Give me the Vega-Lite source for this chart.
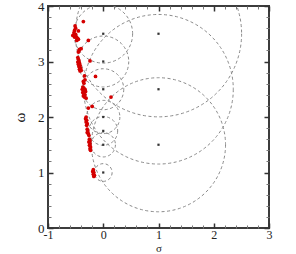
{
  "$schema": "https://vega.github.io/schema/vega-lite/v6.json",
  "width": 221,
  "height": 222,
  "autosize": {"type": "none"},
  "padding": {"left": 48, "top": 6, "right": 27, "bottom": 26},
  "background": "white",
  "config": {
    "view": {"stroke": "#3c3c3c", "strokeWidth": 2},
    "axis": {
      "grid": false,
      "domain": false,
      "labelFont": "Liberation Serif",
      "titleFont": "Liberation Serif",
      "labelFontSize": 13,
      "titleFontSize": 15,
      "titleFontWeight": "normal",
      "labelColor": "#222",
      "titleColor": "#222",
      "tickColor": "#333",
      "labelFlush": false,
      "labelOverlap": false
    }
  },
  "datasets": {
    "circles": [
      {"cx": 1, "cy": 3.5, "r": 1.5},
      {"cx": 1, "cy": 2.5, "r": 1.35},
      {"cx": 1, "cy": 1.5, "r": 1.21},
      {"cx": 0, "cy": 3.5, "r": 0.53},
      {"cx": 0, "cy": 3.0, "r": 0.46},
      {"cx": 0, "cy": 2.5, "r": 0.37},
      {"cx": 0, "cy": 2.0, "r": 0.3},
      {"cx": 0, "cy": 1.75, "r": 0.26},
      {"cx": 0, "cy": 1.5, "r": 0.22},
      {"cx": 0, "cy": 1.0, "r": 0.16}
    ],
    "eig": [
      {"s": -0.36, "w": 3.72}, {"s": -0.51, "w": 3.64}, {"s": -0.50, "w": 3.60}, {"s": -0.52, "w": 3.56},
      {"s": -0.45, "w": 3.55}, {"s": -0.53, "w": 3.52}, {"s": -0.50, "w": 3.49}, {"s": -0.55, "w": 3.47},
      {"s": -0.49, "w": 3.45}, {"s": -0.52, "w": 3.44}, {"s": -0.47, "w": 3.42}, {"s": -0.45, "w": 3.40},
      {"s": -0.48, "w": 3.38}, {"s": -0.46, "w": 3.41}, {"s": -0.27, "w": 3.38},
      {"s": -0.43, "w": 3.22}, {"s": -0.40, "w": 3.23}, {"s": -0.44, "w": 3.19}, {"s": -0.45, "w": 3.17},
      {"s": -0.46, "w": 3.07}, {"s": -0.45, "w": 3.04}, {"s": -0.44, "w": 3.01}, {"s": -0.46, "w": 2.99},
      {"s": -0.43, "w": 2.97}, {"s": -0.45, "w": 2.95}, {"s": -0.42, "w": 2.93}, {"s": -0.44, "w": 2.91},
      {"s": -0.41, "w": 2.88}, {"s": -0.43, "w": 2.86}, {"s": -0.42, "w": 2.83}, {"s": -0.40, "w": 2.84},
      {"s": -0.24, "w": 3.01},
      {"s": -0.34, "w": 2.74}, {"s": -0.36, "w": 2.64}, {"s": -0.35, "w": 2.61}, {"s": -0.33, "w": 2.67},
      {"s": -0.14, "w": 2.73},
      {"s": -0.37, "w": 2.54}, {"s": -0.35, "w": 2.52}, {"s": -0.38, "w": 2.50}, {"s": -0.33, "w": 2.50},
      {"s": -0.36, "w": 2.47}, {"s": -0.32, "w": 2.46}, {"s": -0.37, "w": 2.44}, {"s": -0.35, "w": 2.42},
      {"s": -0.33, "w": 2.40}, {"s": -0.36, "w": 2.38}, {"s": -0.34, "w": 2.36}, {"s": -0.31, "w": 2.34},
      {"s": 0.14, "w": 2.36}, {"s": -0.20, "w": 2.19}, {"s": -0.27, "w": 2.16},
      {"s": -0.31, "w": 2.00}, {"s": -0.32, "w": 1.97}, {"s": -0.30, "w": 1.94}, {"s": -0.31, "w": 1.91},
      {"s": -0.29, "w": 1.88}, {"s": -0.30, "w": 1.85},
      {"s": -0.29, "w": 1.78}, {"s": -0.28, "w": 1.75}, {"s": -0.29, "w": 1.72}, {"s": -0.27, "w": 1.70},
      {"s": -0.26, "w": 1.67},
      {"s": -0.25, "w": 1.60}, {"s": -0.24, "w": 1.57}, {"s": -0.26, "w": 1.55}, {"s": -0.24, "w": 1.52},
      {"s": -0.25, "w": 1.49}, {"s": -0.23, "w": 1.46}, {"s": -0.24, "w": 1.43}, {"s": -0.23, "w": 1.40},
      {"s": -0.18, "w": 1.05}, {"s": -0.19, "w": 1.02}, {"s": -0.17, "w": 1.00}, {"s": -0.18, "w": 0.97},
      {"s": -0.16, "w": 0.95}, {"s": -0.17, "w": 0.93}
    ]
  },
  "resolve": {"axis": {"x": "independent", "y": "independent"}},
  "layer": [
    {
      "mark": {"type": "rule", "color": "#bdbdbd", "strokeWidth": 1},
      "encoding": {
        "x": {"datum": 0, "type": "quantitative", "scale": {"domain": [-1, 3], "nice": false, "zero": false}, "axis": null}
      }
    },
    {
      "data": {"name": "circles"},
      "mark": {"type": "point", "shape": "circle", "filled": false, "stroke": "#8a8a8a", "strokeWidth": 1, "strokeDash": [3, 2.5], "clip": true, "opacity": 1},
      "encoding": {
        "x": {"field": "cx", "type": "quantitative", "scale": {"domain": [-1, 3], "nice": false, "zero": false},
              "axis": {"orient": "bottom", "values": [-1, 0, 1, 2, 3], "ticks": false, "labelPadding": 1, "labelFontSize": 12, "labelExpr": "'' + datum.value", "title": "σ", "titleFontSize": 11, "titleBaseline": "alphabetic", "titlePadding": 11.5}},
        "y": {"field": "cy", "type": "quantitative", "scale": {"domain": [0, 4], "nice": false, "zero": false},
              "axis": {"orient": "left", "values": [0, 1, 2, 3, 4], "ticks": false, "labelPadding": 4, "labelExpr": "'' + datum.value", "title": "ω", "titlePadding": 10}},
        "size": {"field": "r", "type": "quantitative", "scale": {"type": "pow", "exponent": 2, "domain": [0, 1], "range": [0, 12277]}, "legend": null}
      }
    },
    {
      "data": {"name": "circles"},
      "mark": {"type": "point", "shape": "square", "filled": true, "color": "#333", "size": 5, "opacity": 1},
      "encoding": {
        "x": {"field": "cx", "type": "quantitative",
              "axis": {"orient": "bottom", "values": [-0.8,-0.6,-0.4,-0.2,0.2,0.4,0.6,0.8,1.2,1.4,1.6,1.8,2.2,2.4,2.6,2.8], "tickSize": -3, "tickColor": "#777", "labels": false, "title": null}},
        "y": {"field": "cy", "type": "quantitative",
              "axis": {"orient": "left", "values": [0.2,0.4,0.6,0.8,1.2,1.4,1.6,1.8,2.2,2.4,2.6,2.8,3.2,3.4,3.6,3.8], "tickSize": -3, "tickColor": "#777", "labels": false, "title": null}}
      }
    },
    {
      "data": {"name": "circles"},
      "mark": {"type": "point", "opacity": 0},
      "encoding": {
        "x": {"field": "cx", "type": "quantitative",
              "axis": {"orient": "top", "values": [-0.8,-0.6,-0.4,-0.2,0.2,0.4,0.6,0.8,1.2,1.4,1.6,1.8,2.2,2.4,2.6,2.8], "tickSize": -3, "tickColor": "#777", "labels": false, "title": null}},
        "y": {"field": "cy", "type": "quantitative",
              "axis": {"orient": "right", "values": [0.2,0.4,0.6,0.8,1.2,1.4,1.6,1.8,2.2,2.4,2.6,2.8,3.2,3.4,3.6,3.8], "tickSize": -3, "tickColor": "#777", "labels": false, "title": null}}
      }
    },
    {
      "data": {"name": "circles"},
      "mark": {"type": "point", "opacity": 0},
      "encoding": {
        "x": {"field": "cx", "type": "quantitative",
              "axis": {"orient": "bottom", "values": [-1, 0, 1, 2, 3], "tickSize": -5, "tickWidth": 1.5, "labels": false, "title": null}},
        "y": {"field": "cy", "type": "quantitative",
              "axis": {"orient": "left", "values": [0, 1, 2, 3, 4], "tickSize": -5, "tickWidth": 1.5, "labels": false, "title": null}}
      }
    },
    {
      "data": {"name": "eig"},
      "mark": {"type": "point", "shape": "circle", "filled": true, "color": "#d40000", "size": 14, "opacity": 1},
      "encoding": {
        "x": {"field": "s", "type": "quantitative",
              "axis": {"orient": "top", "values": [-1, 0, 1, 2, 3], "tickSize": -5, "tickWidth": 1.5, "labels": false, "title": null}},
        "y": {"field": "w", "type": "quantitative",
              "axis": {"orient": "right", "values": [0, 1, 2, 3, 4], "tickSize": -5, "tickWidth": 1.5, "labels": false, "title": null}}
      }
    }
  ]
}
